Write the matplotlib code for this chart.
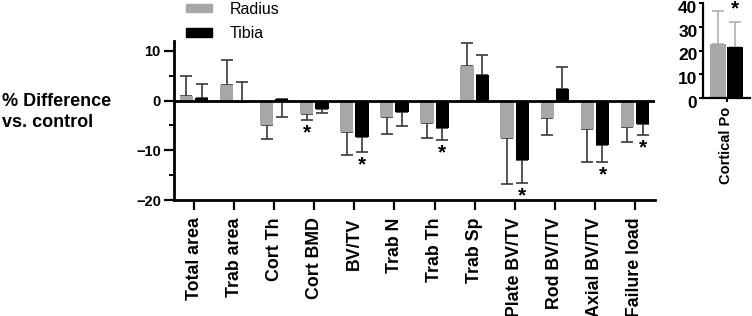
import matplotlib
matplotlib.use("Agg")
import matplotlib.pyplot as plt
from matplotlib.patches import Patch
from matplotlib.ticker import MultipleLocator
from matplotlib.transforms import ScaledTranslation
import numpy as np

plt.rcParams['font.family'] = ['Liberation Sans', 'DejaVu Sans']

categories = ['Total area', 'Trab area', 'Cort Th', 'Cort BMD', 'BV/TV', 'Trab N',
              'Trab Th', 'Trab Sp', 'Plate BV/TV', 'Rod BV/TV', 'Axial BV/TV', 'Failure load']
radius = [1.0, 3.1, -5.0, -2.6, -6.3, -3.3, -4.5, 7.0, -7.5, -3.5, -5.7, -5.3]
radius_cap = [4.9, 8.2, -7.7, -3.8, -11.0, -6.8, -7.6, 11.6, -16.7, -7.0, -12.3, -8.4]
tibia = [0.5, -0.3, 0.3, -1.6, -7.3, -2.2, -5.5, 5.1, -11.9, 2.4, -8.9, -4.7]
tibia_cap = [3.4, 3.7, -3.3, -2.4, -10.3, -5.1, -8.0, 9.1, -16.5, 6.7, -12.3, -6.9]
# significant differences: (category index, series)
stars = [(3, 'radius'), (4, 'tibia'), (6, 'tibia'), (8, 'tibia'), (10, 'tibia'), (11, 'tibia')]

po_label = 'Cortical Po'
po_radius, po_radius_cap = 22.9, 36.8
po_tibia, po_tibia_cap = 21.5, 32.1
po_star = 37.9

GRAY = '#a7a7a5'
BLACK = '#000000'
W = 752 / 100
H = 316 / 100


def err_from_cap(vals, caps):
    vals = np.array(vals)
    caps = np.array(caps)
    lo = np.clip(vals - caps, 0, None)
    hi = np.clip(caps - vals, 0, None)
    return np.vstack([lo, hi])


fig = plt.figure(figsize=(W, H), dpi=100)

# main panel
ax = fig.add_axes([174 / 752, 1 - 200 / 316, (655 - 174) / 752, (200 - 41) / 316])
x = np.arange(len(categories))
bw = 0.33
off = 0.19
ax.bar(x - off, radius, bw, color=GRAY, zorder=2)
ax.bar(x + off, tibia, bw, color=BLACK, zorder=2)
ax.errorbar(x - off, radius, yerr=err_from_cap(radius, radius_cap), fmt='none',
            ecolor='#3a3a3a', elinewidth=1.2, capsize=4.5, capthick=1.2, zorder=1)
ax.errorbar(x + off, tibia, yerr=err_from_cap(tibia, tibia_cap), fmt='none',
            ecolor='#3a3a3a', elinewidth=1.2, capsize=4.5, capthick=1.2, zorder=1)
ax.axhline(0, color='black', lw=2, zorder=3)

for i, s in stars:
    if s == 'radius':
        xs, cap = i - off, radius_cap[i]
    else:
        xs, cap = i + off, tibia_cap[i]
    ax.text(xs, cap - 2.6, '*', ha='center', va='center', fontsize=15, fontweight='bold')

ax.set_xlim(-0.5, len(categories) - 0.5)
ax.set_ylim(-20, 12)
ax.set_yticks([10, 0, -10, -20])
ax.yaxis.set_minor_locator(MultipleLocator(5))
ax.set_xticks(x)
ax.set_xticklabels(categories, rotation=90, fontsize=12.8, fontweight='bold')
for lbl in ax.get_yticklabels():
    lbl.set_fontweight('bold')
    lbl.set_fontsize(10.5)
ax.tick_params(axis='both', which='major', length=7, width=1.6, direction='out', pad=2.5)
ax.tick_params(axis='x', pad=5.5)
ax.tick_params(axis='y', which='minor', length=3.5, width=1.4)
for side in ['top', 'right']:
    ax.spines[side].set_visible(False)
for side in ['left', 'bottom']:
    ax.spines[side].set_linewidth(2)

fig.text(2 / 752, 1 - 112 / 316, '% Difference\nvs. control', ha='left', va='center',
         fontsize=13, fontweight='bold', linespacing=1.3)

fig.legend(handles=[Patch(color=GRAY, label='Radius'), Patch(color=BLACK, label='Tibia')],
           loc='upper left', bbox_to_anchor=(183 / 752, 1.005), frameon=False,
           fontsize=11.5, handlelength=1.6, handleheight=0.45, handletextpad=1.1,
           labelspacing=0.6, borderpad=0.2, borderaxespad=0)

# cortical porosity inset
ax2 = fig.add_axes([703 / 752, 1 - 98 / 316, 47 / 752, 95 / 316])
ax2.bar([-0.175], [po_radius], 0.34, color=GRAY, zorder=2)
ax2.bar([0.175], [po_tibia], 0.34, color=BLACK, zorder=2)
ax2.errorbar([-0.175], [po_radius], yerr=[[0], [po_radius_cap - po_radius]], fmt='none',
             ecolor='#b0b0b0', elinewidth=1.2, capsize=4.5, capthick=1.2, zorder=1)
ax2.errorbar([0.175], [po_tibia], yerr=[[0], [po_tibia_cap - po_tibia]], fmt='none',
             ecolor='#b0b0b0', elinewidth=1.2, capsize=4.5, capthick=1.2, zorder=1)
ax2.text(0.175, po_star - 0.4, '*', ha='center', va='center', fontsize=15,
         fontweight='bold', clip_on=False)
ax2.set_xlim(-0.5, 0.5)
ax2.set_ylim(0, 40)
ax2.set_yticks([0, 10, 20, 30, 40])
ax2.set_xticks([0])
ax2.set_xticklabels([po_label], rotation=90, fontsize=10.5, fontweight='bold')
ax2.tick_params(axis='both', length=3, width=1.4, pad=1)
ax2.tick_params(axis='x', pad=3)
shift = ScaledTranslation(0, -4 / 100, fig.dpi_scale_trans)
for t in ax2.yaxis.get_major_ticks():
    t.label1.set_fontweight('bold')
    t.label1.set_fontsize(12.5)
    t.label1.set_transform(t.label1.get_transform() + shift)
for side in ['top', 'right']:
    ax2.spines[side].set_visible(False)
for side in ['left', 'bottom']:
    ax2.spines[side].set_linewidth(1.6)

fig.savefig('out.png', dpi=100)
